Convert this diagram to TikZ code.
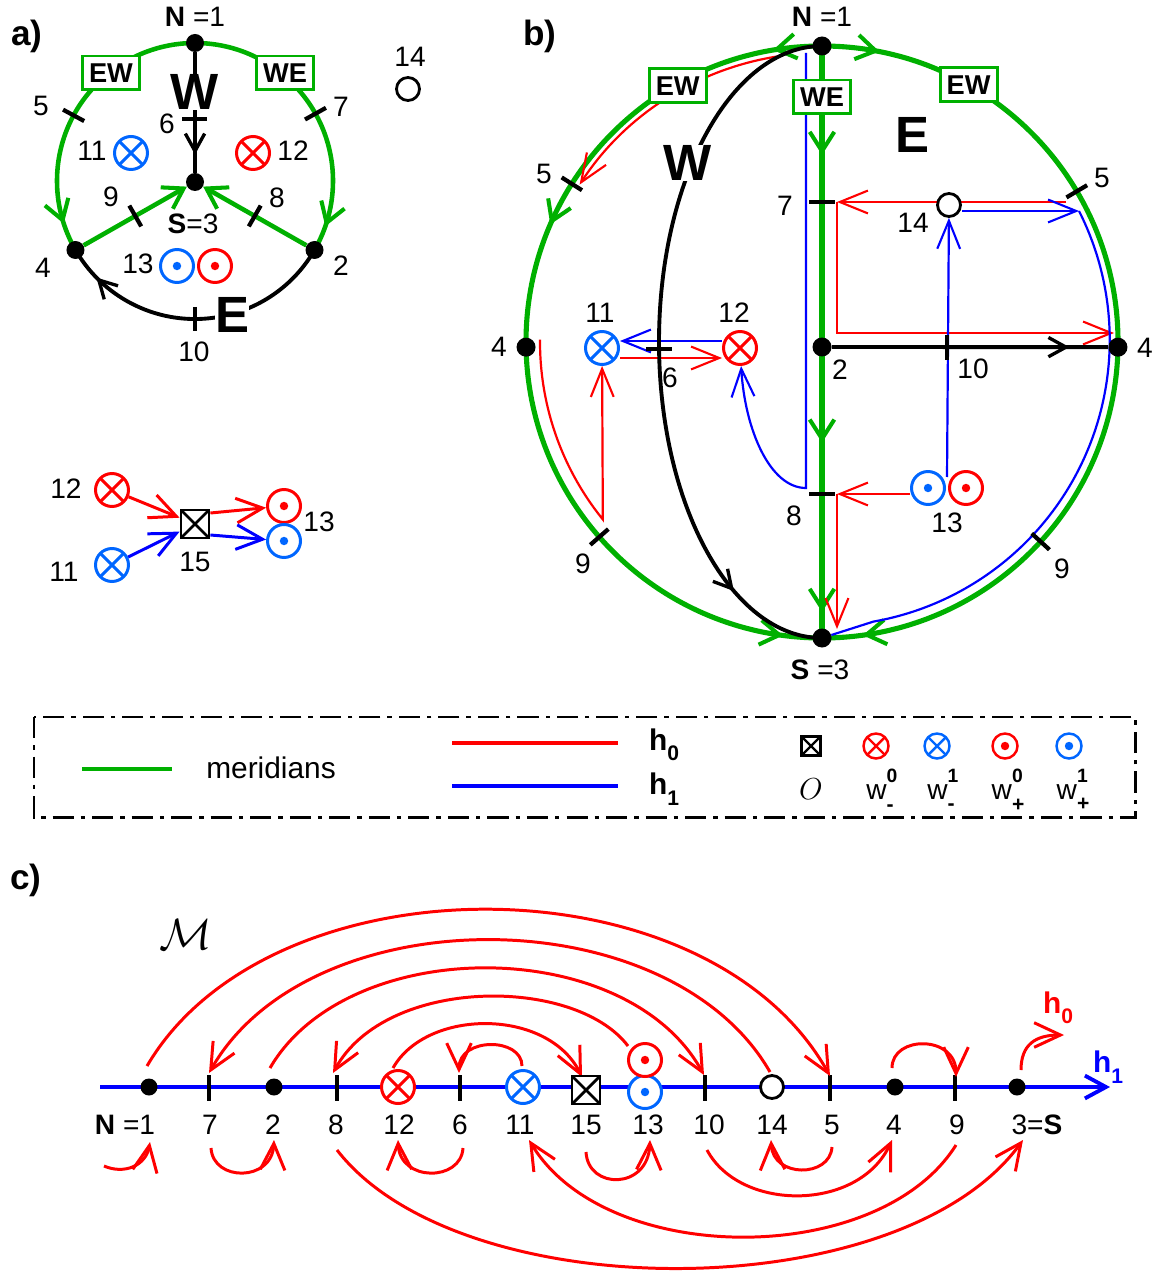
\documentclass[tikz,border=0pt]{standalone}
\usepackage{fontspec}
\setmainfont{Liberation Sans}
\usetikzlibrary{arrows.meta,decorations.markings,calc}
\pgfdeclarelayer{bg}
\pgfsetlayers{bg,main}
\definecolor{grn}{RGB}{0,176,0}
\definecolor{sblue}{RGB}{0,102,255}
\definecolor{lblue}{RGB}{0,0,255}
\definecolor{lred}{RGB}{255,0,0}
\newcommand{\wlab}[2]{w\rlap{\raisebox{0.62em}{\fontsize{11}{12}\selectfont\bfseries #1}}\raisebox{-0.4em}{\fontsize{12}{12}\selectfont\bfseries #2}}
\newcommand{\hlab}[1]{\textbf{h}\raisebox{-0.35em}{\fontsize{12}{12}\selectfont\bfseries #1}}
\tikzset{
  gtip/.tip={Straight Barb[length=11pt,width=14pt,line width=2.3pt]},
  ktip/.tip={Straight Barb[length=10pt,width=11pt,line width=1.9pt]},
  ttip/.tip={Straight Barb[length=16pt,width=13pt,line width=1.2pt]},
  ctip/.tip={Straight Barb[length=15pt,width=14pt,line width=1.7pt]},
  marks/.style={postaction={decorate},decoration={markings,#1}},
  lab/.style={font=\fontsize{16}{19}\selectfont, inner sep=0pt},
  leg/.style={font=\fontsize{17}{20}\selectfont, inner sep=0pt},
  big/.style={font=\fontsize{29}{32}\selectfont\bfseries, inner sep=0pt, fill=white},
  panel/.style={font=\fontsize{20}{24}\selectfont\bfseries, inner sep=0pt},
  mbox/.style={draw=grn, line width=1.7pt, fill=white, minimum width=1.14cm, minimum height=0.68cm, inner sep=0pt, font=\fontsize{15.5}{18}\selectfont\bfseries},
  dot/.style={circle, fill=black, inner sep=0pt, minimum size=#1},
  dot/.default=0.38cm,
  ox/.style={circle, draw=#1, line width=1.7pt, fill=white, minimum size=0.66cm, inner sep=0pt,
    path picture={\draw[#1] (path picture bounding box.north west) -- (path picture bounding box.south east)
      (path picture bounding box.north east) -- (path picture bounding box.south west);}},
  od/.style={circle, draw=#1, line width=1.7pt, fill=white, minimum size=0.66cm, inner sep=0pt,
    path picture={\fill[#1] (path picture bounding box.center) circle[radius=2.4pt];}},
  oc/.style={circle, draw=black, line width=1.6pt, fill=white, minimum size=0.46cm, inner sep=0pt},
  bx/.style={rectangle, draw=black, line width=1.6pt, fill=white, minimum size=0.56cm, inner sep=0pt,
    path picture={\draw (path picture bounding box.north west) -- (path picture bounding box.south east)
      (path picture bounding box.north east) -- (path picture bounding box.south west);}},
  gl/.style={draw=grn, line width=2.9pt},
  kl/.style={draw=black, line width=2.2pt},
  rl/.style={draw=lred, line width=1.25pt},
  bl/.style={draw=lblue, line width=1.25pt},
  rc/.style={draw=lred, line width=1.7pt},
  bc/.style={draw=lblue, line width=1.7pt},
  tk/.style={draw=black, line width=2.4pt},
}
\begin{document}
\begin{tikzpicture}[x=0.02cm,y=-0.02cm]
\useasboundingbox (0,0) rectangle (1155,1273);
% ================= panel a =================
\node[panel] (pa) at (27,36) {a)};
\coordinate (ca) at (195,181);
\node[dot=0.36cm] (aN) at (195,43) {};
\node[dot=0.36cm] (aS) at (195,182) {};
\node[dot=0.36cm] (a4) at ($(ca)+(150:138)$) {};
\node[dot=0.36cm] (a2) at ($(ca)+(30:138)$) {};
\node[mbox] (aEW) at (111,73) {EW};
\node[mbox] (aWE) at (285,73) {WE};
\node[big] (aW) at (195,92) {W};
\node[big] (aE) at (232,315) {E};
\node[ox=sblue] (a11) at (131,153) {};
\node[ox=lred] (a12) at (253,153) {};
\node[od=sblue] (a13b) at (177,266) {};
\node[od=lred] (a13r) at (215,266) {};
\node[oc] (a14) at (408,89) {};
\node[lab] (aNl) at (195,17) {\textbf{N} =1};
\node[lab] (aSl) at (193,224) {\textbf{S}=3};
\node[lab] (a4l) at (43,268) {4};
\node[lab] (a2l) at (341,266) {2};
\node[lab] (a5l) at (41,106) {5};
\node[lab] (a7l) at (341,107) {7};
\node[lab] (a6l) at (167,124) {6};
\node[lab] (a9l) at (111,197) {9};
\node[lab] (a8l) at (277,198) {8};
\node[lab] (a10l) at (194,352) {10};
\node[lab] (a11l) at (92,151) {11};
\node[lab] (a12l) at (293,151) {12};
\node[lab] (a13l) at (138,264) {13};
\node[lab] (a14l) at (410,57) {14};
% small diagram
\node[ox=lred] (s12) at (112,490) {};
\node[ox=sblue] (s11) at (112,565) {};
\node[bx] (s15) at (195,524) {};
\node[od=lred] (s13r) at (284,506) {};
\node[od=sblue] (s13b) at (284,541) {};
\node[lab] (s12l) at (66,489) {12};
\node[lab] (s11l) at (64,572) {11};
\node[lab] (s15l) at (195,562) {15};
\node[lab] (s13l) at (319,522) {13};
% ================= panel b =================
\node[panel] (pb) at (540,36) {b)};
\coordinate (C) at (822,342);
\node[dot] (bN) at (822,46) {};
\node[dot] (bS) at (822,638) {};
\node[dot] (bL4) at ($(C)+(179:296)$) {};
\node[dot] (bR4) at ($(C)+(1:296)$) {};
\node[dot] (b2) at (822,347) {};
\node[mbox] (bEWl) at ($(C)+(-119.4:294)$) {EW};
\node[mbox] (bEWr) at ($(C)+(-60.3:296)$) {EW};
\node[mbox] (bWE) at (822,97) {WE};
\node[big] (bW) at (688,163) {W};
\node[big] (bE) at (912,135) {E};
\node[ox=sblue] (b11) at (602,348) {};
\node[ox=lred] (b12) at (740,348) {};
\node[od=sblue] (b13b) at (928,488) {};
\node[od=lred] (b13r) at (966,488) {};
\node[oc] (b14) at (949,205) {};
\node[lab] (bNl) at (822,17) {\textbf{N} =1};
\node[lab] (bSl) at (820,670) {\textbf{S} =3};
\node[lab] (bL4l) at (499,347) {4};
\node[lab] (bR4l) at (1145,348) {4};
\node[lab] (bL5l) at (544,174) {5};
\node[lab] (bR5l) at (1102,178) {5};
\node[lab] (bL9l) at (583,564) {9};
\node[lab] (bR9l) at (1062,569) {9};
\node[lab] (b7l) at (785,206) {7};
\node[lab] (b2l) at (840,370) {2};
\node[lab] (b8l) at (794,516) {8};
\node[lab] (b10l) at (973,369) {10};
\node[lab] (b6l) at (670,378) {6};
\node[lab] (b11l) at (600,313) {11};
\node[lab] (b12l) at (734,313) {12};
\node[lab] (b13l) at (947,523) {13};
\node[lab] (b14l) at (913,223) {14};
\coordinate (r8) at (837,494);
\coordinate (r8e) at (837,629);
\coordinate (r5) at (1066,202);
\coordinate (r7) at (837,202);
\coordinate (r7c) at (837,333);
\coordinate (r4) at (1114,333);
\coordinate (y211) at (0,211);
\coordinate (b5b) at (1079,211);
\coordinate (b13t) at (947,477);
\coordinate (bNb) at (806,53);
\coordinate (b8b) at (806,488);
% ================= legend =================
\node[leg] (lgm) at (271,768) {meridians};
\node[leg] (lgh0) at (664,745) {\hlab{0}};
\node[leg] (lgh1) at (664,789) {\hlab{1}};
\node[bx, minimum size=0.38cm, line width=1.3pt] (lgO) at (811,746) {};
\node[leg] (lgOl) at (811,789) {$O$};
\node[ox=lred, minimum size=0.5cm, line width=1.4pt] (lgA) at (876,746) {};
\node[ox=sblue, minimum size=0.5cm, line width=1.4pt] (lgB) at (937,746) {};
\node[od=lred, minimum size=0.5cm, line width=1.4pt] (lgC) at (1005,746) {};
\node[od=sblue, minimum size=0.5cm, line width=1.4pt] (lgD) at (1069,746) {};
\node[lab] (lgAl) at (880,790) {\wlab{0}{-}};
\node[lab] (lgBl) at (941,790) {\wlab{1}{-}};
\node[lab] (lgCl) at (1008,790) {\wlab{0}{+}};
\node[lab] (lgDl) at (1073,790) {\wlab{1}{+}};
\coordinate (lgg1) at (82,769); \coordinate (lgg2) at (172,769);
\coordinate (lgr1) at (452,743); \coordinate (lgr2) at (618,743);
\coordinate (lgb1) at (452,786); \coordinate (lgb2) at (618,786);
% ================= panel c =================
\node[panel] (pc) at (26,880) {c)};
\node[inner sep=0pt, font=\fontsize{24}{28}\selectfont] (cM) at (186,935) {$\mathcal{M}$};
\coordinate (cst) at (100,1087);
\coordinate (cen) at (1110,1087);
\node[dot=0.34cm] (c1) at (149,1087) {};
\node[dot=0.34cm] (c2) at (274,1087) {};
\node[dot=0.34cm] (c4) at (895,1087) {};
\node[dot=0.34cm] (c3) at (1017,1087) {};
\node[ox=lred] (c12) at (398,1087) {};
\node[ox=sblue] (c11) at (523,1087) {};
\node[bx] (c15) at (586,1090) {};
\node[od=sblue] (c13b) at (645,1092) {};
\node[od=lred] (c13r) at (645,1060) {};
\node[oc] (c14) at (772,1087) {};
\node[lab] (c1l) at (125,1125) {\textbf{N} =1};
\node[lab] (c7l) at (210,1125) {7};
\node[lab] (c2l) at (273,1125) {2};
\node[lab] (c8l) at (336,1125) {8};
\node[lab] (c12l) at (399,1125) {12};
\node[lab] (c6l) at (460,1125) {6};
\node[lab] (c11l) at (520,1125) {11};
\node[lab] (c15l) at (586,1125) {15};
\node[lab] (c13l) at (648,1125) {13};
\node[lab] (c10l) at (709,1125) {10};
\node[lab] (c14l) at (772,1125) {14};
\node[lab] (c5l) at (832,1125) {5};
\node[lab] (c4l) at (894,1125) {4};
\node[lab] (c9l) at (957,1125) {9};
\node[lab] (c3l) at (1037,1125) {3=\textbf{S}};
\node[leg, text=lred, font=\fontsize{17}{20}\selectfont\bfseries] (ch0) at (1058,1008) {\hlab{0}};
\node[leg, text=lblue, font=\fontsize{17}{20}\selectfont\bfseries] (ch1) at (1108,1067) {\hlab{1}};
% ================= connectors =================
\begin{pgfonlayer}{bg}
% --- a
\draw[gl, line width=2.6pt, marks={mark=at position 0.9 with {\arrow{gtip}}}] (aN.center) arc[start angle=-90,end angle=-210,radius=138];
\draw[gl, line width=2.6pt, marks={mark=at position 0.91 with {\arrow{gtip}}}] (aN.center) arc[start angle=-90,end angle=30,radius=138];
\draw[gl, line width=2.6pt, -gtip] (a4) -- (aS);
\draw[gl, line width=2.6pt, -gtip] (a2) -- (aS);
\draw[kl, marks={mark=at position 0.85 with {\arrow{ktip}}}] (aN) -- (aS);
\draw[kl, marks={mark=at position 0.88 with {\arrow{ktip}}}] (a2.center) arc[start angle=30,end angle=150,radius=138];
\draw[tk] ($(ca)+(-151.6:126)$) -- ($(ca)+(-151.6:150)$);
\draw[tk] ($(ca)+(-29.2:126)$) -- ($(ca)+(-29.2:150)$);
\draw[tk] (195,307) -- (195,331);
\draw[tk] (182,119) -- (207,119);
\draw[tk] (129.3,205.6) -- (141.2,226.4);
\draw[tk] (248.8,226.4) -- (260.7,205.6);
\draw[rc, -ctip] (s12) -- (s15);
\draw[bc, -ctip] (s11) -- (s15);
\draw[rc, -ctip] ($(s15.east)+(0,-11)$) -- (s13r);
\draw[bc, -ctip] ($(s15.east)+(0,11)$) -- (s13b);
% --- b green
\draw[gl, marks={mark=at position 0.053 with {\arrow{gtip}}, mark=at position 0.37 with {\arrow{gtip}}, mark=at position 0.958 with {\arrow{gtip}}}] ($(C)+(-90:296)$) arc[start angle=-90,end angle=-270,radius=296];
\draw[gl, marks={mark=at position 0.062 with {\arrow{gtip}}, mark=at position 0.956 with {\arrow{gtip}}}] ($(C)+(-90:296)$) arc[start angle=-90,end angle=90,radius=296];
\draw[gl, marks={mark=at position 0.184 with {\arrow{gtip}}, mark=at position 0.67 with {\arrow{gtip}}, mark=at position 0.956 with {\arrow{gtip}}}] (bN.center) -- (bS.center);
% --- b red / blue
\draw[rl, -ttip] ($(C)+(-99:289)$) arc[start angle=-99,end angle=-147,radius=289];
\draw[rl, -ttip] ($(C)+(180.5:282)$) arc[start angle=180.5,end angle=141,radius=282] -- (b11);
\draw[rl, -ttip] ($(b11.east)+(0,10)$) -- ($(b12.west)+(0,10)$);
\draw[bl, -ttip] ($(b12.west)+(0,-7)$) -- ($(b11.east)+(0,-7)$);
\draw[rl, -ttip] (b13b.west |- r8) -- (r8);
\draw[rl, -ttip] (r8) -- (r8e);
\draw[rl, -ttip] (r5) -- (r7);
\draw[rl, -ttip] (r7) -- (r7c) -- (r4);
\draw[bl, -ttip] (bNb) -- (b8b) .. controls (770,488) and (745,430) .. (b12);
\draw[bl, -ttip] (b13t) -- (b14);
\draw[bl, -ttip] (b14.east |- y211) -- (b5b);
\draw[bl] (b5b) arc[start angle=-26.8,end angle=80,radius=286] -- (bS);
% --- b black
\draw[kl, marks={mark=at position 0.86 with {\arrow{ktip}}}] (b2) -- (bR4);
\draw[kl, marks={mark=at position 0.86 with {\arrow{ktip}}}] ($(C)+(-90:296)$) arc[start angle=-90,end angle=-270,x radius=163,y radius=296];
\draw[tk] ($(C)+(-147.7:284)$) -- ($(C)+(-147.7:308)$);
\draw[tk] ($(C)+(138.8:284)$) -- ($(C)+(138.8:308)$);
\draw[tk] ($(C)+(-30.6:284)$) -- ($(C)+(-30.6:308)$);
\draw[tk] ($(C)+(42.4:284)$) -- ($(C)+(42.4:308)$);
\draw[tk] (809,202) -- (835,202);
\draw[tk] (809,494) -- (835,494);
\draw[tk] (646,349) -- (672,349);
\draw[tk] (947,335) -- (947,360);
% --- legend
\draw[line width=1.7pt, dash pattern=on 12pt off 4pt on 2.5pt off 4pt] (34,717) rectangle (1135,817);
\draw[draw=grn, line width=2.4pt] (lgg1) -- (lgg2);
\draw[draw=lred, line width=2.3pt] (lgr1) -- (lgr2);
\draw[draw=lblue, line width=2.3pt] (lgb1) -- (lgb2);
% --- c
\draw[draw=lblue, line width=2.5pt, -{Straight Barb[length=12pt,width=13pt,line width=2.2pt]}] (cst) -- (cen);
\foreach \xx in {209,337,460,705,830,955} \draw[tk] (\xx,1075) -- (\xx,1101);
\draw[rc, -ctip] (147,1066) .. controls (270,856) and (707,856) .. (830,1076);
\draw[rc, -ctip] (770,1072) .. controls (669,896) and (310,896) .. (209,1073);
\draw[rc, -ctip] (270,1068) .. controls (348,934) and (626,934) .. (704,1075);
\draw[rc, -ctip] (628,1046) .. controls (575,976) and (386,976) .. (333,1073);
\draw[rc, -ctip] (393,1068) .. controls (427,1008) and (548,1008) .. (582,1077);
\draw[rc, -ctip] (522,1066) .. controls (522,1037) and (459,1037) .. (459,1073);
\draw[rc, -ctip] (892,1068) .. controls (892,1035) and (956,1035) .. (956,1077);
\draw[rc, -ctip] (1021,1070) .. controls (1021,1045) and (1035,1035) .. (1064,1035);
\draw[rc, -ctip] (104,1166) .. controls (125,1175) and (146,1165) .. (150,1142);
\draw[rc, -ctip] (211,1148) .. controls (213,1182) and (272,1182) .. (274,1140);
\draw[rc, -ctip] (463,1148) .. controls (461,1182) and (400,1182) .. (398,1140);
\draw[rc, -ctip] (337,1150) .. controls (460,1309) and (900,1309) .. (1023,1140);
\draw[rc, -ctip] (956,1145) .. controls (879,1268) and (606,1268) .. (529,1140);
\draw[rc, -ctip] (586,1152) .. controls (588,1190) and (648,1190) .. (650,1140);
\draw[rc, -ctip] (707,1150) .. controls (740,1212) and (859,1212) .. (892,1140);
\draw[rc, -ctip] (832,1147) .. controls (830,1178) and (773,1178) .. (771,1140);
\end{pgfonlayer}
\end{tikzpicture}
\end{document}
